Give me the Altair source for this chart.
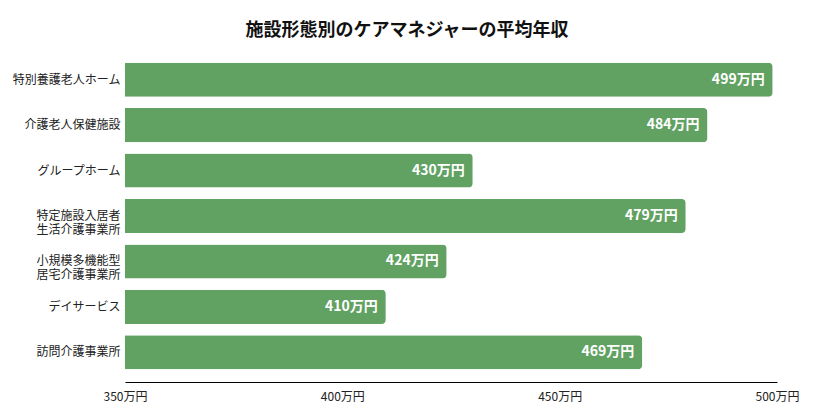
import altair as alt
import pandas as pd

categories = [
    "特別養護老人ホーム",
    "介護老人保健施設",
    "グループホーム",
    "特定施設入居者\n生活介護事業所",
    "小規模多機能型\n居宅介護事業所",
    "デイサービス",
    "訪問介護事業所",
]
salary = [499, 484, 430, 479, 424, 410, 469]
x_ticks = [350, 400, 450, 500]

FONT = "Noto Sans CJK JP"

df = pd.DataFrame({"type": categories, "salary": salary})
df["label"] = df["salary"].astype(str) + "万円"

base = alt.Chart(df).encode(
    y=alt.Y(
        "type:N",
        sort=categories,
        title=None,
        scale=alt.Scale(paddingInner=0.25, paddingOuter=0.125),
        axis=alt.Axis(
            ticks=False,
            domain=False,
            labelFontSize=12,
            labelColor="#222",
            labelPadding=5,
            labelLineHeight=14,
            labelExpr="split(datum.label, '\\n')",
        ),
    ),
    x=alt.X(
        "salary:Q",
        title=None,
        scale=alt.Scale(domain=[350, 500], clamp=True, nice=False, zero=False),
        axis=alt.Axis(
            values=x_ticks,
            grid=False,
            ticks=False,
            labelFlush=False,
            domainColor="#000",
            domainWidth=1,
            offset=7,
            labelFontSize=12,
            labelColor="#222",
            labelPadding=9,
            labelExpr="datum.value + '万円'",
        ),
    ),
)

bars = base.mark_bar(color="#61a263", cornerRadiusEnd=4)

labels = base.mark_text(
    align="right", baseline="middle", dx=-8, color="white",
    fontWeight="bold", fontSize=14, font=FONT,
).encode(text="label:N")

chart = (
    (bars + labels)
    .properties(
        width=652,
        height=318,
        title=alt.TitleParams(
            "施設形態別のケアマネジャーの平均年収",
            fontSize=18, fontWeight="bold", font=FONT, color="#111",
            anchor="middle", dx=-44, offset=17,
        ),
        autosize=alt.AutoSizeParams(type="none"),
        padding={"left": 117, "top": 49, "right": 28, "bottom": 32},
    )
    .configure_axis(labelFont=FONT)
    .configure_view(stroke=None)
)

chart.save("out.html", embed_options={"renderer": "svg", "actions": False})
